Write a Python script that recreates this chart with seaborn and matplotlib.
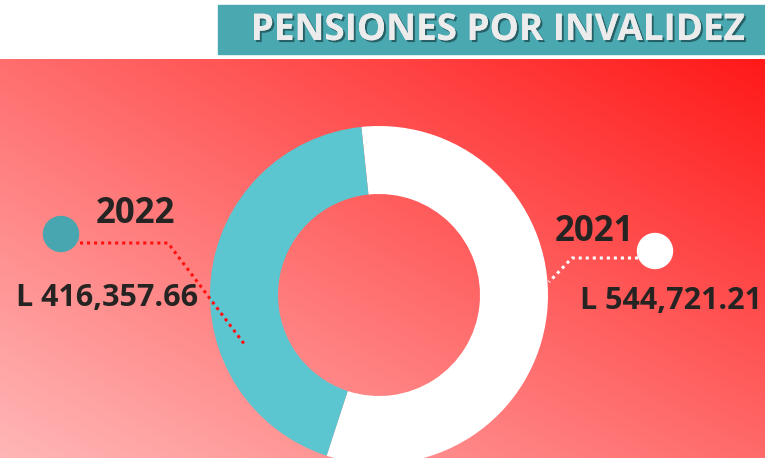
import numpy as np
import matplotlib
matplotlib.use('Agg')
import matplotlib.pyplot as plt
import matplotlib.patheffects as pe
import seaborn as sns

# data
years = ['2021', '2022']
amounts = [544721.21, 416357.66]
donut_colors = ['#ffffff', '#5bc6d0']
marker_colors = ['#ffffff', '#48a6b0']
title = 'PENSIONES POR INVALIDEZ'

sns.set_style('white')
plt.rcParams['font.family'] = ['Open Sans', 'DejaVu Sans']

W, H = 765, 458
fig = plt.figure(figsize=(W / 100, H / 100), dpi=100)
ax = fig.add_axes([0, 0, 1, 1])

# red gradient background (bilinear between corner shades)
top = 59
xs = np.linspace(0, 1, 200)
ys = np.linspace(0, 1, 120)
gx, gy = np.meshgrid(xs, ys)
tl, tr, bl, br = 110, 25, 182, 106
g = (tl * (1 - gx) * (1 - gy) + tr * gx * (1 - gy)
     + bl * (1 - gx) * gy + br * gx * gy) / 255.0
img = np.dstack([np.ones_like(g), g, g])
ax.imshow(img, extent=[0, W, H, top], aspect='auto', zorder=0, interpolation='bilinear')

# title banner
ax.add_patch(plt.Rectangle((218, 5), W - 218, 49, color='#4aa8b0', zorder=1))
ax.text(497, 30, title, color='#ececec', fontsize=26.5, fontweight='bold',
        ha='center', va='center', zorder=2,
        path_effects=[pe.withSimplePatchShadow(offset=(1.5, -1.5), shadow_rgbFace='#1e4f55', alpha=0.8),
                      pe.Normal()])

# donut (y axis is flipped, so data-counterclockwise shows clockwise)
cx, cy, R, r = 379, 295, 169, 101
ax.pie(amounts, colors=donut_colors, radius=R, center=(cx, cy),
       startangle=264, counterclock=True,
       wedgeprops=dict(width=R - r, edgecolor='none'), frame=True)
ax.set_xlim(0, W)
ax.set_ylim(H, 0)
ax.axis('off')
ax.set_aspect('auto')

# 2022 annotation
ax.add_patch(plt.Circle((61, 234), 17.5, color=marker_colors[1], zorder=3))
ax.plot([80, 168, 245], [243, 243, 345], color='#ff1010', lw=2.2,
        linestyle=(0, (1, 1.3)), zorder=3)
ax.text(135, 214, years[1], fontsize=25, fontweight='bold', color='#252423',
        ha='center', va='center', zorder=4)
ax.text(107, 298, 'L {:,.2f}'.format(amounts[1]), fontsize=22, fontweight='bold',
        color='#252423', ha='center', va='center', zorder=4)

# 2021 annotation
ax.add_patch(plt.Circle((655, 251), 17.5, color=marker_colors[0], zorder=3))
ax.plot([638, 572, 549], [258, 258, 282], color='#ffffff', lw=2.2,
        linestyle=(0, (1, 1.3)), zorder=3)
ax.text(594, 232, years[0], fontsize=25, fontweight='bold', color='#252423',
        ha='center', va='center', zorder=4)
ax.text(671, 301, 'L {:,.2f}'.format(amounts[0]), fontsize=22, fontweight='bold',
        color='#252423', ha='center', va='center', zorder=4)

fig.savefig('out.png', dpi=100)
